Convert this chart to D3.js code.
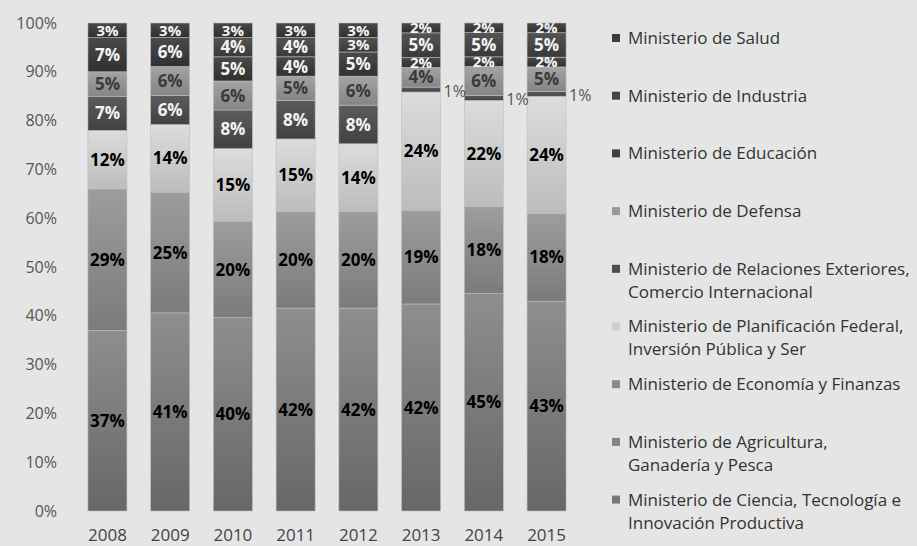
<!DOCTYPE html>
<html>
<head>
<meta charset="utf-8">
<script src="https://cdnjs.cloudflare.com/ajax/libs/d3/7.8.5/d3.min.js"></script>
<style>
  body { margin: 0; background: #e5e5e5; }
  svg { display: block; }
  text { font-family: "Open Sans", "Noto Sans", sans-serif; }
</style>
</head>
<body>
<div id="chart"></div>
<script>
// data (percent of each year)
const years = ["2008", "2009", "2010", "2011", "2012", "2013", "2014", "2015"];
const ciencia       = [37, 41, 40, 42, 42, 42, 45, 43];
const agricultura   = [0, 0, 0, 0, 0, 0, 0, 0];
const economia      = [29, 25, 20, 20, 20, 19, 18, 18];
const planificacion = [12, 14, 15, 15, 14, 24, 22, 24];
const relExt        = [7, 6, 8, 8, 8, 1, 1, 1];
const defensa       = [5, 6, 6, 5, 6, 4, 6, 5];
const educacion     = [7, 6, 5, 4, 5, 2, 2, 2];
const industria     = [0, 0, 4, 4, 3, 5, 5, 5];
const salud         = [3, 3, 3, 3, 3, 2, 2, 2];
const yTicks = [0, 0.1, 0.2, 0.3, 0.4, 0.5, 0.6, 0.7, 0.8, 0.9, 1];

// stack order, bottom to top
const series = [
  {key: "ciencia", values: ciencia, label: ["Ministerio de Ciencia, Tecnología e", "Innovación Productiva"]},
  {key: "agricultura", values: agricultura, label: ["Ministerio de Agricultura,", "Ganadería y Pesca"]},
  {key: "economia", values: economia, label: ["Ministerio de Economía y Finanzas"]},
  {key: "planificacion", values: planificacion, label: ["Ministerio de Planificación Federal,", "Inversión Pública y Ser"]},
  {key: "relExt", values: relExt, label: ["Ministerio de Relaciones Exteriores,", "Comercio Internacional"]},
  {key: "defensa", values: defensa, label: ["Ministerio de Defensa"]},
  {key: "educacion", values: educacion, label: ["Ministerio de Educación"]},
  {key: "industria", values: industria, label: ["Ministerio de Industria"]},
  {key: "salud", values: salud, label: ["Ministerio de Salud"]}
];

// gray gradients: top colour, bottom colour, legend colour, label colour
const shades = {
  ciencia:       ["#8e8e8e", "#676767", "#777777", "#000"],
  agricultura:   ["#9a9a9a", "#787878", "#858585", "#000"],
  economia:      ["#9d9d9d", "#7b7b7b", "#8a8a8a", "#000"],
  planificacion: ["#dcdcdc", "#bcbcbc", "#cfcfcf", "#000"],
  relExt:        ["#5c5c5c", "#414141", "#4e4e4e", "#f4f4f4"],
  defensa:       ["#a3a3a3", "#858585", "#999999", "#3a3a3a"],
  educacion:     ["#4a4a4a", "#303030", "#3e3e3e", "#f4f4f4"],
  industria:     ["#545454", "#393939", "#464646", "#f4f4f4"],
  salud:         ["#4a4a4a", "#2e2e2e", "#3c3c3c", "#f4f4f4"]
};

const width = 917, height = 546;
const margin = {top: 23, right: 339, bottom: 35, left: 76};

const table = years.map((y, i) => {
  const row = {year: y};
  series.forEach(s => row[s.key] = s.values[i]);
  return row;
});

const stack = d3.stack()
  .keys(series.map(s => s.key))
  .offset(d3.stackOffsetExpand);
const layers = stack(table);

const svg = d3.select("#chart").append("svg")
  .attr("width", width)
  .attr("height", height);

svg.append("rect").attr("width", width).attr("height", height).attr("fill", "#e5e5e5");

const defs = svg.append("defs");
series.forEach(s => {
  const g = defs.append("linearGradient")
    .attr("id", "grad-" + s.key)
    .attr("x1", 0).attr("y1", 0).attr("x2", 0).attr("y2", 1);
  g.append("stop").attr("offset", "0%").attr("stop-color", shades[s.key][0]);
  g.append("stop").attr("offset", "100%").attr("stop-color", shades[s.key][1]);
});

const x = d3.scaleBand()
  .domain(years)
  .range([margin.left, width - margin.right])
  .paddingInner(0.378)
  .paddingOuter(0.19);

const y = d3.scaleLinear()
  .domain([0, 1])
  .range([height - margin.bottom, margin.top]);

// bars
const layerG = svg.append("g")
  .selectAll("g")
  .data(layers)
  .join("g")
  .attr("fill", d => `url(#grad-${d.key})`);

layerG.selectAll("rect")
  .data(d => d.filter(p => p[1] - p[0] > 0))
  .join("rect")
  .attr("x", d => x(d.data.year))
  .attr("y", d => y(d[1]))
  .attr("width", x.bandwidth())
  .attr("height", d => y(d[0]) - y(d[1]))
  .attr("stroke", "#bdbdbd")
  .attr("stroke-width", 0.6);

// data labels
layers.forEach(layer => {
  const col = shades[layer.key][3];
  layer.forEach(p => {
    const v = p.data[layer.key];
    if (!v) return;
    const mid = (y(p[0]) + y(p[1])) / 2;
    if (v <= 1) {
      svg.append("text")
        .attr("x", x(p.data.year) + x.bandwidth() + 3)
        .attr("y", mid + 2)
        .attr("dy", "0.35em")
        .attr("font-size", 16)
        .attr("fill", "#555")
        .text(v + "%");
    } else {
      svg.append("text")
        .attr("x", x(p.data.year) + x.bandwidth() / 2)
        .attr("y", mid)
        .attr("dy", "0.36em")
        .attr("text-anchor", "middle")
        .attr("font-size", v <= 3 ? 15 : 17)
        .attr("font-weight", "bold")
        .attr("fill", col)
        .text(v + "%");
    }
  });
});

// axes
svg.append("g")
  .attr("transform", `translate(${margin.left - 19},0)`)
  .call(d3.axisLeft(y).tickValues(yTicks).tickFormat(d3.format(".0%")).tickSize(0).tickPadding(0))
  .call(g => g.select(".domain").remove())
  .call(g => g.selectAll("text").attr("font-size", 16).attr("fill", "#555")
    .attr("font-family", "'Open Sans', sans-serif"));

svg.append("g")
  .attr("transform", `translate(0,${height - margin.bottom})`)
  .call(d3.axisBottom(x).tickSize(0).tickPadding(18))
  .call(g => g.select(".domain").remove())
  .call(g => g.selectAll("text").attr("font-size", 17).attr("fill", "#444")
    .attr("font-family", "'Open Sans', sans-serif"));

// legend, same order as reference (top of stack first)
const legendItems = series.slice().reverse();
const legend = svg.append("g").attr("transform", "translate(612,0)");
legendItems.forEach((s, i) => {
  const ly = 38 + i * 57.7;
  legend.append("rect")
    .attr("x", 0).attr("y", ly - 4)
    .attr("width", 8).attr("height", 8)
    .attr("fill", shades[s.key][2]);
  s.label.forEach((line, j) => {
    legend.append("text")
      .attr("x", 16)
      .attr("y", ly + j * 23)
      .attr("dy", "0.35em")
      .attr("font-size", 17)
      .attr("fill", "#333")
      .text(line);
  });
});
</script>
</body>
</html>
